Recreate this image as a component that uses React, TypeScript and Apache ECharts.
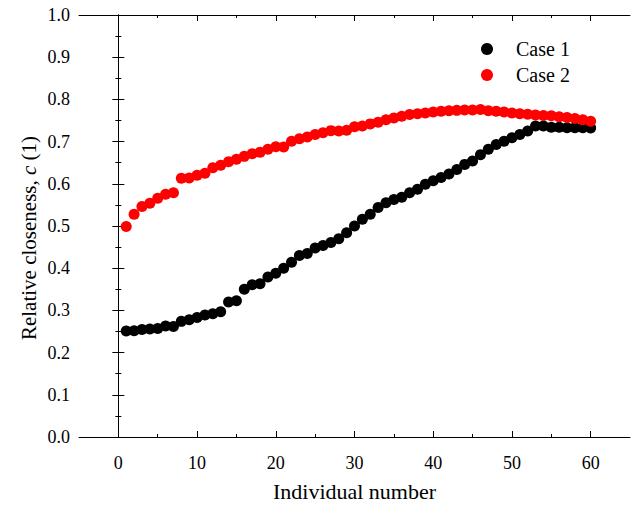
import React, { useEffect, useRef } from "react";
import * as echarts from "echarts";

const individualNumbers = [
  1, 2, 3, 4, 5, 6, 7, 8, 9, 10, 11, 12, 13, 14, 15, 16, 17, 18, 19, 20,
  21, 22, 23, 24, 25, 26, 27, 28, 29, 30, 31, 32, 33, 34, 35, 36, 37, 38, 39, 40,
  41, 42, 43, 44, 45, 46, 47, 48, 49, 50, 51, 52, 53, 54, 55, 56, 57, 58, 59, 60,
];

const case1 = [
  0.251, 0.252, 0.255, 0.256, 0.257, 0.263, 0.262, 0.274, 0.278, 0.283,
  0.289, 0.292, 0.297, 0.32, 0.323, 0.35, 0.361, 0.363, 0.379, 0.388,
  0.4, 0.414, 0.43, 0.435, 0.448, 0.454, 0.461, 0.47, 0.484, 0.5,
  0.516, 0.528, 0.544, 0.555, 0.563, 0.568, 0.579, 0.587, 0.599, 0.607,
  0.615, 0.623, 0.634, 0.646, 0.654, 0.669, 0.682, 0.693, 0.701, 0.709,
  0.717, 0.725, 0.737, 0.737, 0.734, 0.734, 0.733, 0.733, 0.733, 0.732,
];

const case2 = [
  0.499, 0.528, 0.546, 0.554, 0.566, 0.575, 0.579, 0.613, 0.614, 0.62,
  0.625, 0.638, 0.644, 0.652, 0.658, 0.665, 0.671, 0.675, 0.682, 0.688,
  0.687, 0.701, 0.707, 0.711, 0.717, 0.721, 0.726, 0.725, 0.727, 0.735,
  0.737, 0.742, 0.746, 0.752, 0.756, 0.76, 0.764, 0.766, 0.768, 0.77,
  0.772, 0.773, 0.774, 0.775, 0.775, 0.776, 0.773, 0.772, 0.77, 0.768,
  0.766, 0.765, 0.763, 0.762, 0.761, 0.759, 0.757, 0.755, 0.752, 0.748,
];

const seriesNames = ["Case 1", "Case 2"];
const xMajorTicks = [0, 10, 20, 30, 40, 50, 60];
const xMinorTicks = [5, 15, 25, 35, 45, 55];

const FONT = "'Liberation Serif', 'Times New Roman', serif";

export default function App() {
  const ref = useRef<HTMLDivElement>(null);
  useEffect(() => {
    if (!ref.current) return;
    const chart = echarts.init(ref.current, null, { renderer: "svg" });
    const line = { show: true, lineStyle: { color: "#000", width: 1 } };
    const baseX = { type: "value", min: -5, max: 65, splitLine: { show: false } };
    const baseY = { type: "value", min: 0, max: 1, interval: 0.1, splitLine: { show: false } };
    chart.setOption({
      animation: false,
      backgroundColor: "#fff",
      grid: { left: 79, right: 3, top: 15, bottom: 68, containLabel: false },
      legend: {
        orient: "vertical",
        left: 476,
        top: 34,
        itemWidth: 12,
        itemHeight: 12,
        itemGap: 6,
        icon: "circle",
        data: seriesNames,
        textStyle: { fontFamily: FONT, fontSize: 20, color: "#000", padding: [0, 0, 0, 18] },
      },
      graphic: [
        {
          type: "text",
          x: 29,
          y: 238,
          rotation: Math.PI / 2,
          style: {
            text: "{n|Relative closeness, }{i|c}{n| (1)}",
            align: "center",
            verticalAlign: "middle",
            rich: {
              n: { fontFamily: FONT, fontSize: 21, fill: "#000" },
              i: { fontFamily: FONT, fontSize: 21, fill: "#000", fontStyle: "italic" },
            },
          },
        },
      ],
      xAxis: [
        {
          ...baseX,
          position: "bottom",
          axisLine: line,
          axisTick: { show: true, inside: true, length: 6, customValues: xMajorTicks, lineStyle: { color: "#000" } },
          axisLabel: { show: true, customValues: xMajorTicks, margin: 17, fontFamily: FONT, fontSize: 18, color: "#000" },
          name: "Individual number",
          nameLocation: "middle",
          nameGap: 43,
          nameTextStyle: { fontFamily: FONT, fontSize: 22, color: "#000" },
        },
        {
          ...baseX,
          position: "bottom",
          axisLine: { show: false },
          axisTick: { show: true, inside: true, length: 3, customValues: xMinorTicks, lineStyle: { color: "#000" } },
          axisLabel: { show: false },
        },
        {
          ...baseX,
          position: "top",
          axisLine: line,
          axisTick: { show: true, inside: true, length: 6, customValues: xMajorTicks, lineStyle: { color: "#000" } },
          axisLabel: { show: false },
        },
        {
          ...baseX,
          position: "top",
          axisLine: { show: false },
          axisTick: { show: true, inside: true, length: 3, customValues: xMinorTicks, lineStyle: { color: "#000" } },
          axisLabel: { show: false },
        },
      ],
      yAxis: [
        {
          ...baseY,
          position: "left",
          axisLine: line,
          axisTick: { show: true, inside: true, length: 6, lineStyle: { color: "#000" } },
          minorTick: { show: true, splitNumber: 2, length: 3, lineStyle: { color: "#000" } },
          axisLabel: {
            show: true,
            margin: 9,
            fontFamily: FONT,
            fontSize: 18,
            color: "#000",
            formatter: (v: number) => v.toFixed(1),
          },
        },
        {
          ...baseY,
          position: "right",
          axisLine: line,
          axisTick: { show: true, inside: true, length: 6, lineStyle: { color: "#000" } },
          minorTick: { show: true, splitNumber: 2, length: 3, lineStyle: { color: "#000" } },
          axisLabel: { show: false },
        },
      ],
      series: [
        {
          name: seriesNames[0],
          type: "scatter",
          xAxisIndex: 0,
          yAxisIndex: 0,
          symbol: "circle",
          symbolSize: 11,
          itemStyle: { color: "#000000", opacity: 1 },
          data: individualNumbers.map((n, i) => [n, case1[i]]),
        },
        {
          name: seriesNames[1],
          type: "scatter",
          xAxisIndex: 0,
          yAxisIndex: 0,
          symbol: "circle",
          symbolSize: 11,
          itemStyle: { color: "#ff0000", opacity: 1 },
          data: individualNumbers.map((n, i) => [n, case2[i]]),
        },
      ],
    });
    return () => chart.dispose();
  }, []);
  return (
    <div
      ref={ref}
      style={{ position: "fixed", left: 0, top: 0, width: 633, height: 507, background: "#fff" }}
    />
  );
}
